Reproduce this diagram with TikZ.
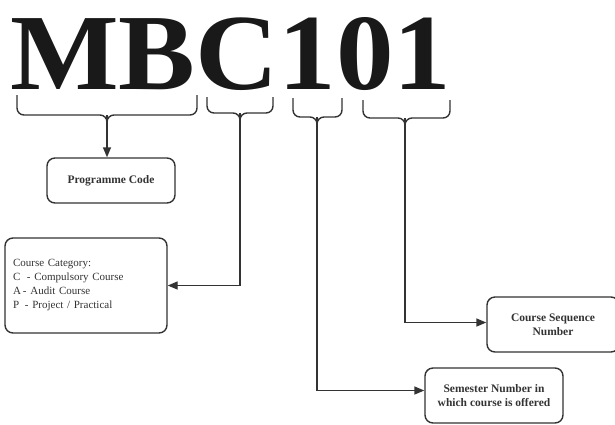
\documentclass[tikz,border=0pt]{standalone}
\usepackage{fontspec}
\setmainfont{Liberation Serif}
\usetikzlibrary{arrows.meta, positioning}

\tikzset{
  codebox/.style={draw, rounded corners=8pt, line width=1.4pt, align=center,
    font=\fontsize{11.5}{14}\selectfont\bfseries},
  brace/.style={line width=1.4pt, rounded corners=7pt},
  pointer/.style={line width=1.4pt, -{Triangle[length=10pt,width=8pt]}}
}

\begin{document}
\begin{tikzpicture}[x=1pt, y=-1pt, color=black!80]
  \useasboundingbox (0,0) rectangle (615,424);

  % the code itself
  \node[anchor=south west, inner sep=0, text=black!90] (code) at (10,91)
    {\resizebox{441pt}{72pt}{\bfseries MBC101}};

  % boxes
  \node[codebox, minimum width=128pt, minimum height=45pt] (prog) at (111,180.5) {Programme Code};
  \node[codebox, minimum width=162pt, minimum height=95pt, align=left, text width=146pt,
        font=\fontsize{11}{14}\selectfont] (cat) at (86,285.5)
    {Course Category:\\
     \makebox[14pt][l]{C}- Compulsory Course\\
     \makebox[10pt][l]{A}- Audit Course\\
     \makebox[12pt][l]{P}- Project / Practical\\[6pt]};
  \node[codebox, minimum width=132pt, minimum height=55pt] (seq) at (553,324.5) {Course Sequence\\Number};
  \node[codebox, minimum width=138pt, minimum height=55pt] (sem) at (494,395.5) {Semester Number in\\which course is offered};

  % braces under the code
  \coordinate (mb) at (107,115);
  \coordinate (cc) at (240,113);
  \coordinate (sm) at (317,117);
  \coordinate (sq) at (405,118);

  \draw[brace] (17,95) |- (mb) -- ++(0,8);
  \draw[brace] (197,95) |- (mb) -- ++(0,8);
  \draw[brace] (207,97) |- (cc) -- ++(0,8);
  \draw[brace] (273,97) |- (cc) -- ++(0,8);
  \draw[brace] (293,98) |- (sm) -- ++(0,8);
  \draw[brace] (342,98) |- (sm) -- ++(0,8);
  \draw[brace] (363,100) |- (sq) -- ++(0,8);
  \draw[brace] (450,100) |- (sq) -- ++(0,8);

  % connectors
  \draw[pointer] (mb) -- (prog.north -| mb);
  \draw[pointer] (cc) |- (cat.east);
  \draw[pointer] (sm) |- ([yshift=5pt]sem.west);
  \draw[pointer] (sq) |- ([yshift=2pt]seq.west);
\end{tikzpicture}
\end{document}
